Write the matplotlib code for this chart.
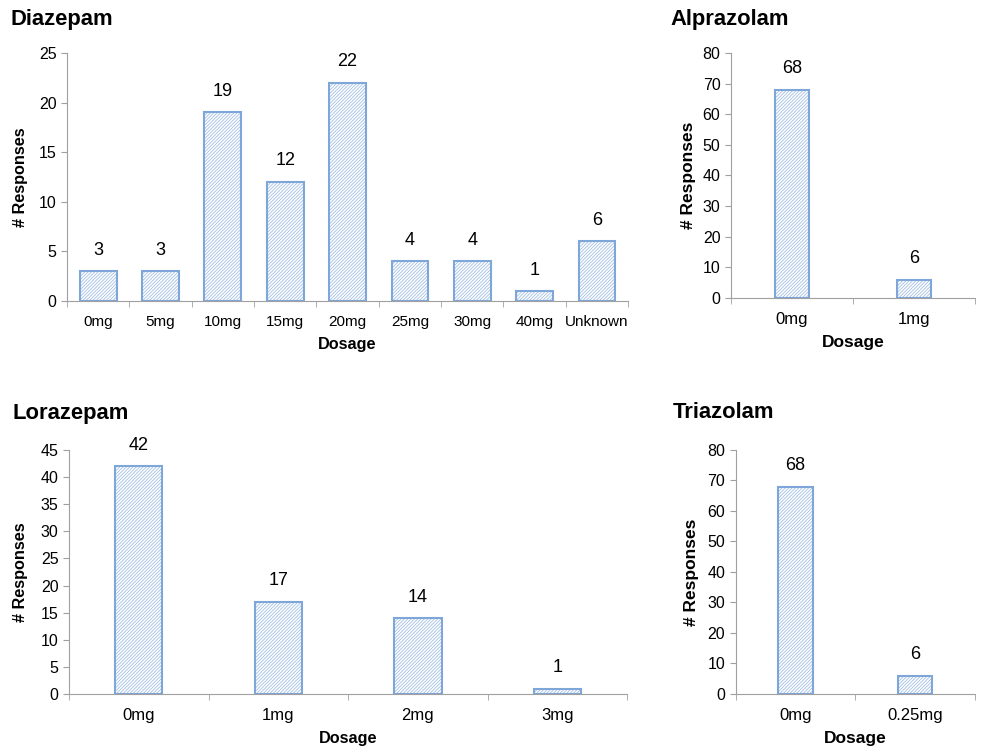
import matplotlib.pyplot as plt
import numpy as np

plt.rcParams['font.family'] = ['Liberation Sans', 'DejaVu Sans']
plt.rcParams['hatch.linewidth'] = 0.6

diaz_labels = ['0mg', '5mg', '10mg', '15mg', '20mg', '25mg', '30mg', '40mg', 'Unknown']
diaz_values = [3, 3, 19, 12, 22, 4, 4, 1, 6]

alpr_labels = ['0mg', '1mg']
alpr_values = [68, 6]

lora_labels = ['0mg', '1mg', '2mg', '3mg']
lora_values = [42, 17, 14, 1]

tria_labels = ['0mg', '0.25mg']
tria_values = [68, 6]

EDGE = '#7FA6D8'
HATCH = '#A3C0E6'
SPINE = '#A0A0A0'


def draw(ax, title, labels, values, ymax, ystep, width, title_xy,
         xfs, lblfs, ylab_x):
    x = np.arange(len(labels))
    ax.bar(x, values, width, color='white', edgecolor=HATCH, hatch='//////////', linewidth=0)
    ax.bar(x, values, width, color='none', edgecolor=EDGE, linewidth=1.5)
    for xi, v in zip(x, values):
        ax.annotate(str(v), (xi, v), xytext=(0, 9), textcoords='offset points',
                    ha='center', va='bottom', fontsize=13)
    ax.set_xlim(-0.5, len(labels) - 0.5)
    ax.set_ylim(0, ymax)
    ax.set_yticks(np.arange(0, ymax + 1, ystep))
    ax.set_xticks(x)
    ax.set_xticklabels(labels)
    ax.set_xticks(np.arange(-0.5, len(labels), 1), minor=True)
    ax.tick_params(axis='x', which='major', length=0, pad=10, labelsize=xfs)
    ax.tick_params(axis='x', which='minor', length=4, color=SPINE)
    ax.tick_params(axis='y', length=4, color=SPINE, labelsize=11.5)
    for s in ['top', 'right']:
        ax.spines[s].set_visible(False)
    for s in ['left', 'bottom']:
        ax.spines[s].set_color(SPINE)
    ax.set_xlabel('Dosage', fontweight='bold', fontsize=lblfs, labelpad=6)
    ax.set_ylabel('# Responses', fontweight='bold', fontsize=lblfs)
    ax.yaxis.set_label_coords(ylab_x, 0.5)
    fig.text(title_xy[0], title_xy[1], title, fontweight='bold', fontsize=15.8,
             ha='left', va='center')


fig = plt.figure(figsize=(9.81, 7.5), dpi=100)
ax1 = fig.add_axes([0.0683, 0.5987, 0.572, 0.3307])
ax2 = fig.add_axes([0.745, 0.6027, 0.2487, 0.3267])
ax3 = fig.add_axes([0.0703, 0.0747, 0.569, 0.3253])
ax4 = fig.add_axes([0.750, 0.0747, 0.2436, 0.3253])

draw(ax1, 'Diazepam', diaz_labels, diaz_values, 25, 5, 0.59,
     (10 / 981, 1 - 20 / 750), 11, 11.7, -0.0695)
draw(ax2, 'Alprazolam', alpr_labels, alpr_values, 80, 10, 0.28,
     (670 / 981, 1 - 20 / 750), 12, 12.5, -0.143)
draw(ax3, 'Lorazepam', lora_labels, lora_values, 45, 5, 0.34,
     (12 / 981, 1 - 413 / 750), 12, 11.7, -0.073)
draw(ax4, 'Triazolam', tria_labels, tria_values, 80, 10, 0.285,
     (673 / 981, 1 - 413 / 750), 12, 12.5, -0.155)

fig.savefig('out.png', dpi=100)
